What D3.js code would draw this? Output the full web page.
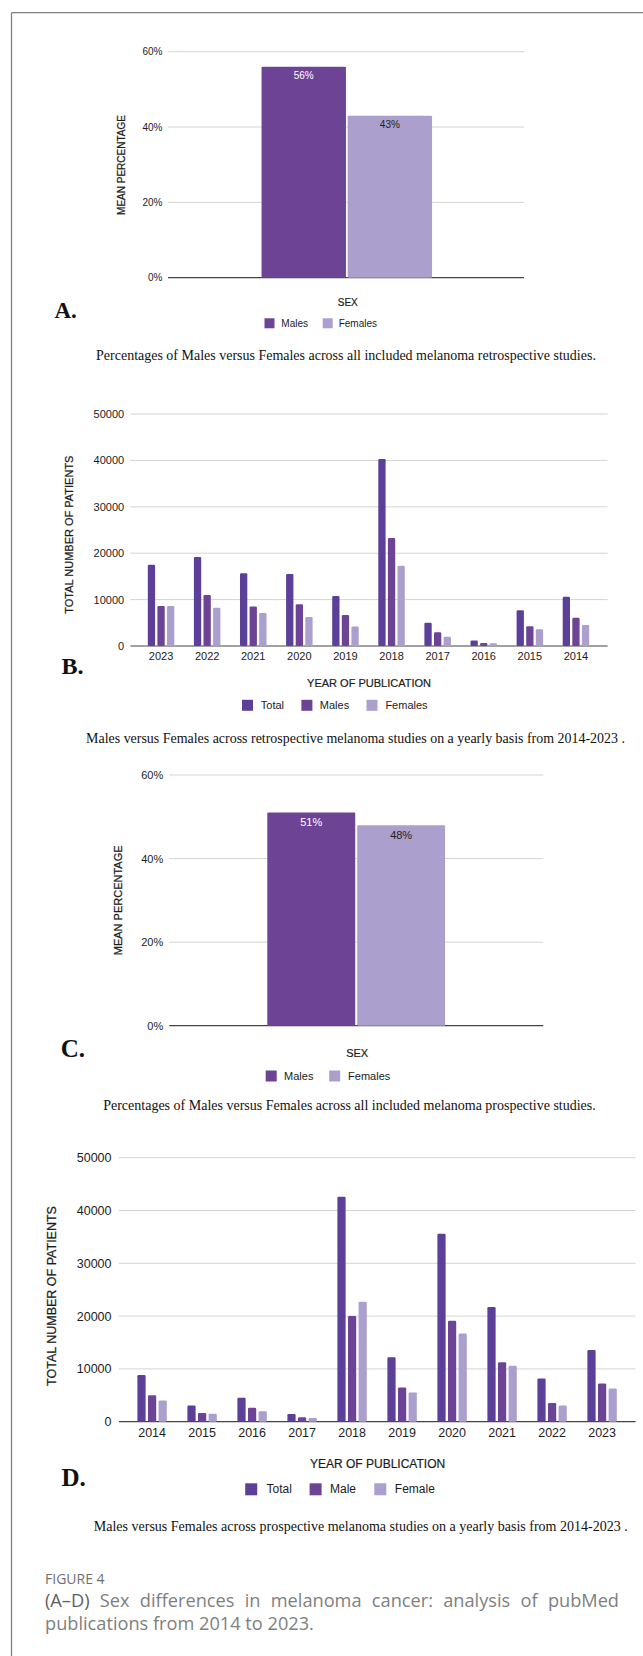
<!DOCTYPE html>
<html>
<head>
<meta charset="utf-8">
<script src="https://cdn.jsdelivr.net/npm/d3@7"></script>
<style>
  html, body { margin: 0; padding: 0; background: #fff; }
  svg { display: block; }
</style>
</head>
<body>
<svg id="fig" width="643" height="1656"></svg>
<script>
// ---- data ----
const sexCategories = ["Males", "Females"];
const retroMeanPct = [56, 43];
const prospMeanPct = [51, 48];
const pctTicks = [0, 20, 40, 60];

const retroYears = ["2023", "2022", "2021", "2020", "2019", "2018", "2017", "2016", "2015", "2014"];
const retroTotal = [17500, 19200, 15700, 15500, 10800, 40300, 5000, 1200, 7700, 10600];
const retroMales = [8600, 11000, 8500, 9000, 6700, 23300, 2950, 650, 4250, 6100];
const retroFemales = [8600, 8250, 7100, 6250, 4200, 17300, 2000, 570, 3600, 4550];
const retroSeries = ["Total", "Males", "Females"];

const prospYears = ["2014", "2015", "2016", "2017", "2018", "2019", "2020", "2021", "2022", "2023"];
const prospTotal = [8850, 3050, 4550, 1450, 42600, 12200, 35600, 21700, 8200, 13600];
const prospMale = [5000, 1650, 2650, 820, 20000, 6500, 19100, 11250, 3550, 7250];
const prospFemale = [4000, 1500, 2000, 700, 22700, 5550, 16700, 10600, 3050, 6300];
const prospSeries = ["Total", "Male", "Female"];

const countTicks = [0, 10000, 20000, 30000, 40000, 50000];

// ---- styling ----
const SANS = "'Liberation Sans', Arial, sans-serif";
const SERIF = "'Liberation Serif', 'Times New Roman', serif";
const CAPTION_FONT = "'Open Sans', 'Noto Sans', sans-serif";
const C_TOTAL = "#5b3f99", C_MALE = "#6d4396", C_FEMALE = "#ab9fcd";
const GRID = "#d4d4d4", AXIS = "#444", INK = "#1c1c1c";

const svg = d3.select("#fig");

// outer frame (left and top rules)
svg.append("line").attr("x1", 11.5).attr("x2", 11.5).attr("y1", 12.7).attr("y2", 1656)
  .attr("stroke", "#808080").attr("stroke-width", 1.3);
svg.append("line").attr("x1", 11.5).attr("x2", 643).attr("y1", 12.7).attr("y2", 12.7)
  .attr("stroke", "#808080").attr("stroke-width", 1.3);

function gridAndAxis(g, y, ticks, x0, x1, fmt, fs, labelGap) {
  ticks.forEach(t => {
    if (t !== 0) {
      g.append("line").attr("x1", x0).attr("x2", x1).attr("y1", y(t)).attr("y2", y(t))
        .attr("stroke", GRID).attr("stroke-width", 1);
    }
  });
  const ax = d3.axisLeft(y).tickValues(ticks).tickFormat(fmt).tickSize(0).tickPadding(labelGap);
  const a = g.append("g").attr("transform", `translate(${x0},0)`).call(ax);
  a.select(".domain").remove();
  a.selectAll("text").attr("font-family", SANS).attr("font-size", fs).attr("fill", INK);
  g.append("line").attr("x1", x0).attr("x2", x1).attr("y1", y(0)).attr("y2", y(0))
    .attr("stroke", AXIS).attr("stroke-width", 1.2);
}

function yTitle(g, text, cx, cy, fs) {
  g.append("text").attr("transform", `translate(${cx},${cy}) rotate(-90)`)
    .attr("text-anchor", "middle").attr("dominant-baseline", "central")
    .attr("font-family", SANS).attr("font-size", fs).attr("fill", INK)
    .attr("stroke", INK).attr("stroke-width", 0.25).text(text);
}

function plainText(g, text, x, y, fs, opts = {}) {
  return g.append("text").attr("x", x).attr("y", y)
    .attr("text-anchor", opts.anchor || "middle")
    .attr("dominant-baseline", opts.baseline || "central")
    .attr("font-family", opts.family || SANS).attr("font-size", fs)
    .attr("font-weight", opts.weight || "normal")
    .attr("fill", opts.fill || INK).text(text);
}

// serif sub-caption sized so that it spans the given left/right limits
function fittedCaption(g, text, left, right, cy) {
  const t = plainText(g, text, (left + right) / 2, cy, 13, { family: SERIF, fill: "#111" });
  const w = t.node().getComputedTextLength();
  t.attr("font-size", 13 * (right - left) / w);
  return t;
}

function legend(g, items, cy, size, fs) {
  items.forEach(it => {
    g.append("rect").attr("x", it.sx).attr("y", cy - size / 2).attr("width", size).attr("height", size)
      .attr("fill", it.color);
    plainText(g, it.label, it.tx, cy, fs, { anchor: "start" });
  });
}

function panelLetter(g, letter, x, baseline, fs) {
  plainText(g, letter, x, baseline, fs, { anchor: "start", baseline: "alphabetic", family: SERIF, weight: "bold", fill: "#111" });
}

// ---- percentage panels (A and C) ----
function percentPanel(p) {
  const g = svg.append("g");
  const y = d3.scaleLinear().domain([0, 60]).range([p.yBottom, p.yTop]);
  gridAndAxis(g, y, pctTicks, p.x0, p.x1, d => d + "%", p.fs, p.x0 - p.tickRight);
  const x = d3.scaleBand().domain(sexCategories)
    .range([p.groupCenter - p.barW - p.gap / 2, p.groupCenter + p.barW + p.gap / 2])
    .paddingInner(p.gap / (p.barW + p.gap));
  const colors = [C_MALE, C_FEMALE];
  const labelFill = ["#ffffff", "#222"];
  sexCategories.forEach((c, i) => {
    const v = p.values[i];
    g.append("rect").attr("x", x(c)).attr("y", y(v)).attr("width", x.bandwidth())
      .attr("height", y(0) - y(v)).attr("fill", colors[i]).attr("rx", 1);
    plainText(g, v + "%", x(c) + x.bandwidth() / 2, y(v) + p.labelDrop, p.fs, { fill: labelFill[i] });
  });
  yTitle(g, "MEAN PERCENTAGE", p.titleX, (p.yTop + p.yBottom) / 2 + p.titleShift, p.fs);
  plainText(g, "SEX", p.groupCenter + 1, p.sexY, p.fs).attr("stroke", INK).attr("stroke-width", 0.2);
  legend(g, [
    { sx: p.leg[0], tx: p.leg[1], label: "Males", color: C_MALE },
    { sx: p.leg[2], tx: p.leg[3], label: "Females", color: C_FEMALE }
  ], p.legY, p.legSize, p.fs);
  panelLetter(g, p.letter, p.letterX, p.letterBase, p.letterFs);
  fittedCaption(g, p.caption, p.capL, p.capR, p.capY);
}

// ---- yearly count panels (B and D) ----
function countPanel(p) {
  const g = svg.append("g");
  const y = d3.scaleLinear().domain([0, 50000]).range([p.yBottom, p.yTop]);
  gridAndAxis(g, y, countTicks, p.x0, p.x1, d3.format("d"), p.fs, p.x0 - p.tickRight);
  const x = d3.scaleBand().domain(p.years).range([p.bandStart, p.bandStart + p.band * p.years.length]);
  const inner = d3.scaleBand().domain(p.series)
    .range([-p.groupW / 2, p.groupW / 2]).paddingInner(p.innerPad);
  const colors = [C_TOTAL, C_MALE, C_FEMALE];
  p.years.forEach((yr, i) => {
    const cx = x(yr) + x.bandwidth() / 2;
    p.series.forEach((s, k) => {
      const v = p.values[k][i];
      g.append("rect").attr("x", cx + inner(s)).attr("y", y(v))
        .attr("width", inner.bandwidth()).attr("height", y(0) - y(v))
        .attr("fill", colors[k]).attr("rx", 1.2);
    });
    plainText(g, yr, cx, p.yearY, p.fs);
  });
  yTitle(g, "TOTAL NUMBER OF PATIENTS", p.titleX, p.titleY, p.fs);
  plainText(g, "YEAR OF PUBLICATION", p.xTitleX, p.xTitleY, p.xTitleFs).attr("stroke", INK).attr("stroke-width", 0.2);
  legend(g, p.series.map((s, k) => ({ sx: p.leg[k][0], tx: p.leg[k][1], label: s, color: colors[k] })),
    p.legY, p.legSize, p.legFs);
  panelLetter(g, p.letter, p.letterX, p.letterBase, p.letterFs);
  fittedCaption(g, p.caption, p.capL, p.capR, p.capY);
}

percentPanel({
  values: retroMeanPct, yTop: 51.7, yBottom: 277.7, x0: 168, x1: 524, tickRight: 162.5,
  groupCenter: 346.8, barW: 84.4, gap: 1.7, fs: 10, labelDrop: 8.7,
  titleX: 121.8, titleShift: 0.3, sexY: 302.7,
  leg: [264.5, 281.3, 322.7, 338.7], legY: 323.3, legSize: 10,
  letter: "A.", letterX: 54.5, letterBase: 318.3, letterFs: 23,
  caption: "Percentages of Males versus Females across all included melanoma retrospective studies.",
  capL: 96, capR: 596, capY: 355
});

countPanel({
  years: retroYears, series: retroSeries, values: [retroTotal, retroMales, retroFemales],
  yTop: 414, yBottom: 646, x0: 130.4, x1: 607.6, tickRight: 124.2,
  bandStart: 138, band: 46.1, groupW: 26.5, innerPad: 0.24, fs: 11, yearY: 656,
  titleX: 68.9, titleY: 534.7, xTitleX: 369, xTitleY: 683.3, xTitleFs: 11,
  leg: [[242, 260.8], [301.4, 319.8], [366.5, 385.4]], legY: 705.3, legSize: 11, legFs: 11,
  letter: "B.", letterX: 61.5, letterBase: 674, letterFs: 24,
  caption: "Males versus Females across retrospective melanoma studies on a yearly basis from 2014-2023 .",
  capL: 86, capR: 625, capY: 738
});

percentPanel({
  values: prospMeanPct, yTop: 775, yBottom: 1025.7, x0: 169.3, x1: 543.3, tickRight: 163.2,
  groupCenter: 356.2, barW: 87.9, gap: 2, fs: 11, labelDrop: 9.5,
  titleX: 118, titleShift: 0, sexY: 1052.7,
  leg: [265.7, 284.1, 329.2, 348.1], legY: 1076, legSize: 11,
  letter: "C.", letterX: 60.7, letterBase: 1056.7, letterFs: 25,
  caption: "Percentages of Males versus Females across all included melanoma prospective studies.",
  capL: 103, capR: 596, capY: 1105.7
});

countPanel({
  years: prospYears, series: prospSeries, values: [prospTotal, prospMale, prospFemale],
  yTop: 1157.7, yBottom: 1421.7, x0: 118.9, x1: 635.5, tickRight: 111.5,
  bandStart: 127.1, band: 50, groupW: 29.4, innerPad: 0.226, fs: 12.5, yearY: 1432.7,
  titleX: 52, titleY: 1296, xTitleX: 377.6, xTitleY: 1464, xTitleFs: 12,
  leg: [[245.2, 266.5], [309.6, 330], [374.3, 394.8]], legY: 1489.3, legSize: 12, legFs: 12,
  letter: "D.", letterX: 61.5, letterBase: 1486, letterFs: 25,
  caption: "Males versus Females across prospective melanoma studies on a yearly basis from 2014-2023 .",
  capL: 93.5, capR: 628, capY: 1526.7
});

// ---- figure caption ----
svg.append("text").attr("x", 45).attr("y", 1578).attr("dominant-baseline", "central")
  .attr("font-family", CAPTION_FONT).attr("font-size", 14).attr("fill", "#707070")
  .text("FIGURE 4");

const line1 = svg.append("text").attr("x", 45).attr("y", 1600).attr("dominant-baseline", "central")
  .attr("font-family", CAPTION_FONT).attr("font-size", 18.2).attr("fill", "#808080");
line1.append("tspan").attr("fill", "#5e5e5e").text("(A–D)");
line1.append("tspan").text(" Sex differences in melanoma cancer: analysis of pubMed");
// justify the first line to the right margin by widening word gaps
const natural = line1.node().getComputedTextLength();
const gaps = 8;
const target = 619 - 45;
if (natural < target) line1.attr("word-spacing", (target - natural) / gaps);

svg.append("text").attr("x", 45).attr("y", 1623).attr("dominant-baseline", "central")
  .attr("font-family", CAPTION_FONT).attr("font-size", 18.2).attr("fill", "#808080")
  .text("publications from 2014 to 2023.");
</script>
</body>
</html>
